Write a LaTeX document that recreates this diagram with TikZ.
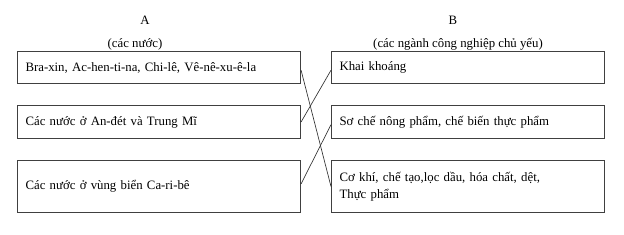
\documentclass[tikz,border=0pt]{standalone}
\usepackage{fontspec}
\setmainfont{Liberation Serif}
\usepackage{tikz}
\usetikzlibrary{positioning}
\tikzset{
  itembox/.style={draw, thick, draw=black!75, rectangle, anchor=north west, inner xsep=6pt, inner ysep=0pt,
    align=left, font=\fontsize{9.6}{13}\selectfont},
  leftbox/.style={itembox, minimum width=212.25pt, text width=200.25pt},
  rightbox/.style={itembox, minimum width=204.75pt, text width=192.75pt},
  header/.style={font=\fontsize{9.6}{12}\selectfont, inner sep=0pt},
  matchline/.style={draw=black!80, line width=0.5pt}
}
\begin{document}
\begin{tikzpicture}[x=0.75pt,y=-0.75pt]
  \useasboundingbox (0,0) rectangle (624,235);
  % column headings
  \node[header] (headA) at (145,20) {A};
  \node[header] (subA) at (135,44) {(các nước)};
  \node[header] (headB) at (453,20) {B};
  \node[header] (subB) at (458,44) {(các ngành công nghiệp chủ yếu)};
  % column A
  \node[leftbox, minimum height=24pt] (a1) at (17,51) {Bra-xin, Ac-hen-ti-na, Chi-lê, Vê-nê-xu-ê-la};
  \node[leftbox, minimum height=24.75pt] (a2) at (17,105) {Các nước ở An-đét và Trung Mĩ};
  \node[leftbox, minimum height=39pt] (a3) at (17,160) {Các nước ở vùng biển Ca-ri-bê};
  % column B
  \node[rightbox, minimum height=24pt] (b1) at (331,51) {Khai khoáng};
  \node[rightbox, minimum height=24.75pt] (b2) at (331,105) {Sơ chế nông phẩm, chế biến thực phẩm};
  \node[rightbox, minimum height=39pt] (b3) at (331,160) {Cơ khí, chế tạo,lọc dầu, hóa chất, dệt,\\Thực phẩm};
  % matching lines
  \draw[matchline] ([yshift=-2pt]a1.east) -- (b3.west);
  \draw[matchline] (a2.east) -- ([yshift=-2pt]b1.west);
  \draw[matchline] ([yshift=2pt]a3.east) -- ([yshift=-2pt]b2.west);
\end{tikzpicture}
\end{document}
